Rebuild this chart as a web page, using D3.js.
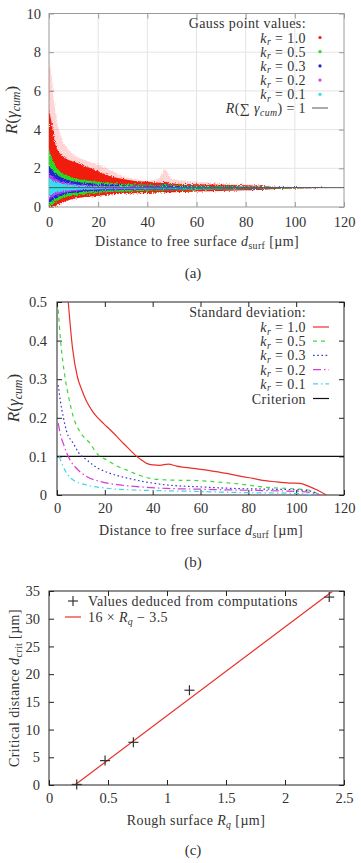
<!DOCTYPE html>
<html lang="en">
<head>
<meta charset="utf-8">
<title>Gauss point values / standard deviation / critical distance</title>
<script src="https://cdn.jsdelivr.net/npm/d3@7"></script>
<style>
  body { margin: 0; background: #fff; }
  text { font-family: "Liberation Serif", "DejaVu Serif", serif; fill: #333; }
  .wide { letter-spacing: 0.4px; }
</style>
</head>
<body>
<script>

// ---------- panel (a): envelopes of the Gauss point clouds
var dist        = [0,   1,   2,    3,    5,   7,    10,   15,   20,   25,   30,   35,   40,   45,   47,   50,   60,   70,   80,   85,   90,   100,  113];
var redSparseHi = [7.6, 6.8, 5.6,  4.6,  3.6, 3.1,  2.7,  2.4,  2.2,  1.9,  1.6,  1.45, 1.35, 1.5,  1.95, 1.45, 1.3,  1.22, 1.18, 1.15, 1.08, 1.04, 1.0];
var redHi       = [5.0, 4.4, 3.6,  3.1,  2.7, 2.5,  2.35, 2.1,  1.85, 1.6,  1.45, 1.35, 1.3,  1.25, 1.3,  1.22, 1.18, 1.15, 1.12, 1.1,  1.05, 1.03, 1.0];
var redLo       = [0.0, 0.0, 0.02, 0.08, 0.2, 0.3,  0.42, 0.52, 0.58, 0.64, 0.68, 0.71, 0.73, 0.75, 0.75, 0.76, 0.8,  0.83, 0.86, 0.88, 0.92, 0.95, 1.0];
var greenHi     = [3.0, 2.6, 2.3,  2.05, 1.8, 1.65, 1.5,  1.38, 1.3,  1.25, 1.2,  1.17, 1.15, 1.13, 1.2,  1.12, 1.1,  1.08, 1.06, 1.05, 1.04, 1.02, 1.0];
var greenLo     = [0.05,0.1, 0.18, 0.28, 0.42,0.52, 0.6,  0.68, 0.73, 0.77, 0.8,  0.82, 0.84, 0.85, 0.85, 0.86, 0.88, 0.9,  0.92, 0.93, 0.95, 0.97, 1.0];
var blueHi      = [2.1, 1.95,1.8,  1.7,  1.52,1.42, 1.32, 1.24, 1.19, 1.16, 1.13, 1.11, 1.1,  1.09, 1.12, 1.08, 1.06, 1.05, 1.04, 1.03, 1.03, 1.02, 1.0];
var blueLo      = [0.22,0.3, 0.4,  0.48, 0.6, 0.68, 0.74, 0.8,  0.84, 0.86, 0.88, 0.89, 0.9,  0.91, 0.91, 0.91, 0.93, 0.94, 0.95, 0.96, 0.97, 0.98, 1.0];
var magHi       = [1.75,1.62,1.52, 1.45, 1.34,1.27, 1.2,  1.14, 1.11, 1.09, 1.08, 1.07, 1.06, 1.06, 1.06, 1.05, 1.04, 1.04, 1.03, 1.02, 1.02, 1.01, 1.0];
var magLo       = [0.38,0.48,0.56, 0.62, 0.7, 0.76, 0.82, 0.86, 0.89, 0.9,  0.91, 0.92, 0.93, 0.94, 0.94, 0.94, 0.95, 0.96, 0.97, 0.97, 0.98, 0.99, 1.0];
var cyanHi      = [1.5, 1.42,1.35, 1.3,  1.22,1.17, 1.12, 1.08, 1.06, 1.05, 1.05, 1.04, 1.04, 1.04, 1.04, 1.03, 1.03, 1.02, 1.02, 1.02, 1.01, 1.01, 1.0];
var cyanLo      = [0.55,0.64,0.7,  0.75, 0.8, 0.84, 0.88, 0.91, 0.93, 0.94, 0.95, 0.95, 0.96, 0.96, 0.96, 0.96, 0.97, 0.97, 0.98, 0.98, 0.98, 0.99, 1.0];
var kLabels = ['1.0', '0.5', '0.3', '0.2', '0.1'];

// ---------- panel (b): standard deviation curves
var sdX1 = [4.7, 6.5, 8.5, 10.5, 12.4, 14.5, 16.6, 19.5, 22.2, 25, 27.7, 30.5, 33.3, 35.5, 37.5, 40, 43, 46.5, 50, 57, 65, 71, 78, 82, 84.9, 91.8, 97.4, 101.6, 105.8, 110, 112.7];
var sdY1 = [0.5, 0.38, 0.307, 0.27, 0.242, 0.22, 0.203, 0.185, 0.169, 0.152, 0.134, 0.117, 0.1, 0.09, 0.082, 0.078, 0.077, 0.080, 0.075, 0.069, 0.062, 0.056, 0.047, 0.043, 0.039, 0.034, 0.031, 0.030, 0.021, 0.009, 0];
var sdX5 = [0.5, 1.5, 3.3, 5, 6.8, 10, 13.8, 17, 20.8, 25, 29, 35, 39, 45.9, 59.8, 73.7, 87.7, 101.6, 105, 108, 110.5];
var sdY5 = [0.48, 0.4, 0.307, 0.25, 0.203, 0.16, 0.134, 0.105, 0.091, 0.075, 0.065, 0.05, 0.043, 0.039, 0.037, 0.030, 0.020, 0.015, 0.013, 0.006, 0];
var sdX3 = [0.5, 1.5, 2.6, 4, 6.8, 9, 12.4, 17, 22.2, 30, 36, 45.9, 60, 73.7, 90, 101.6, 106, 110];
var sdY3 = [0.285, 0.24, 0.203, 0.165, 0.134, 0.11, 0.091, 0.07, 0.056, 0.043, 0.035, 0.026, 0.021, 0.017, 0.015, 0.013, 0.010, 0];
var sdX2 = [0.5, 1.5, 2.6, 4, 5.4, 8, 12.4, 18, 26.1, 35, 45.9, 60, 73.7, 90, 104, 110];
var sdY2 = [0.186, 0.155, 0.134, 0.11, 0.091, 0.07, 0.048, 0.035, 0.026, 0.021, 0.017, 0.015, 0.013, 0.011, 0.008, 0];
var sdX1b = [0.9, 2.5, 4.1, 7, 12.4, 20, 31.9, 45, 60, 80, 100, 108];
var sdY1b = [0.10, 0.075, 0.056, 0.038, 0.026, 0.018, 0.013, 0.011, 0.009, 0.006, 0.004, 0];
var criterion = 0.1;

// ---------- panel (c): critical distance vs roughness
var roughRq  = [0.235, 0.475, 0.715, 1.19, 2.375];
var critDist = [0.1, 4.4, 7.7, 17.1, 33.9];
var fitRq    = [0.219, 2.4];
var fitDcrit = [0, 34.9];

var w = 361;
var h = 863;
var fs = 14;   // legend / label font size

var svg = d3.select("body")
  .append("svg")
  .attr("width", w)
  .attr("height", h);

// speckle filter so the clouds get ragged edges like the scatter
var flt = svg.append('defs').append('filter').attr('id', 'speckle')
  .attr('x', '-5%').attr('y', '-5%').attr('width', '110%').attr('height', '110%');
flt.append('feTurbulence').attr('type', 'fractalNoise').attr('baseFrequency', 0.9)
  .attr('numOctaves', 1).attr('seed', 3).attr('result', 'n');
flt.append('feDisplacementMap').attr('in', 'SourceGraphic').attr('in2', 'n')
  .attr('scale', 4).attr('xChannelSelector', 'R').attr('yChannelSelector', 'G');

// write a run of math-ish text: parts = [[string, italic, sub]]
var mathText = function(sel, parts, size) {
  parts.forEach(function(p, i) {
    var prevSub = i > 0 && parts[i-1][2];
    var t = sel.append('tspan').text(p[0]);
    if (p[1]) t.attr('font-style', 'italic');
    if (p[2]) t.attr('font-size', size*0.7).attr('dy', size*0.18);
    else if (prevSub) t.attr('dy', -size*0.18);
  });
  return sel;
};

var kParts = function(v) { return [['k', true, false], ['r', true, true], [' = ' + v, false, false]]; };

var drawFrame = function(x, y, xt, yt, xf, yf, opt) {
  var g = svg.append('g');
  if (opt.grid) {
    g.selectAll('line.gx').data(xt.slice(1, -1)).enter().append('line')
      .attr('x1', x).attr('x2', x).attr('y1', y.range()[0]).attr('y2', y.range()[1])
      .attr('stroke', '#e4e4e4').attr('stroke-width', 1);
    g.selectAll('line.gy').data(yt.slice(1, -1)).enter().append('line')
      .attr('y1', y).attr('y2', y).attr('x1', x.range()[0]).attr('x2', x.range()[1])
      .attr('stroke', '#e4e4e4').attr('stroke-width', 1);
  }
  var b = y.range()[0], t = y.range()[1], l = x.range()[0], r = x.range()[1];
  g.append('g').attr('transform', 'translate(0,' + b + ')')
    .call(d3.axisBottom(x).tickValues(xt).tickFormat(xf).tickSize(-5).tickPadding(opt.xpad));
  g.append('g').attr('transform', 'translate(0,' + t + ')')
    .call(d3.axisTop(x).tickValues(xt).tickFormat('').tickSize(-5));
  g.append('g').attr('transform', 'translate(' + l + ',0)')
    .call(d3.axisLeft(y).tickValues(yt).tickFormat(yf).tickSize(-5).tickPadding(opt.ypad));
  g.append('g').attr('transform', 'translate(' + r + ',0)')
    .call(d3.axisRight(y).tickValues(yt).tickFormat('').tickSize(-5));
  g.selectAll('.domain').remove();
  g.selectAll('.tick line').attr('stroke', opt.frame);
  g.selectAll('.tick text').attr('font-size', 14.5).attr('fill', '#555')
    .attr('font-family', '"Liberation Serif", serif');
  g.append('rect').attr('x', l).attr('y', t).attr('width', r - l).attr('height', b - t)
    .attr('fill', 'none').attr('stroke', opt.frame).attr('stroke-width', 1);
  return g;
};

var fmt = function(d) { return d === 0 ? '0' : String(d); };

var rLabel = function(cx, cy) {
  return mathText(svg.append('text').attr('transform', 'translate(' + cx + ',' + cy + ') rotate(-90)')
    .attr('text-anchor', 'middle').attr('font-size', 17),
    [['R', true, false], ['(', false, false], ['\u03b3', true, false], ['cum', true, true], [')', false, false]], 17);
};
var xLabel = function(cx, y) {
  return mathText(svg.append('text').attr('class', 'wide').attr('x', cx).attr('y', y)
    .attr('text-anchor', 'middle').attr('font-size', fs),
    [['Distance to free surface ', false, false], ['d', true, false], ['surf', false, true], [' [\u00b5m]', false, false]], fs);
};

// =============================== (a)
var xA = d3.scaleLinear().domain([0, 120]).range([49, 344]);
var yA = d3.scaleLinear().domain([0, 10]).range([207, 13.5]);

svg.append('clipPath').attr('id', 'clipA').append('rect')
  .attr('x', 49).attr('y', 13.5).attr('width', 295).attr('height', 193.5);

drawFrame(xA, yA, d3.range(0, 121, 20), d3.range(0, 11, 2), fmt, fmt,
  {grid: true, frame: '#9a9a9a', xpad: 10, ypad: 8});

var bands = [
  {hi: redSparseHi, lo: redLo, c: '#ff4040', o: 0.22},
  {hi: redHi,   lo: redLo,   c: '#f01c10', o: 1},
  {hi: greenHi, lo: greenLo, c: '#22dd22', o: 1},
  {hi: blueHi,  lo: blueLo,  c: '#2020d8', o: 1},
  {hi: magHi,   lo: magLo,   c: '#b040f0', o: 1},
  {hi: cyanHi,  lo: cyanLo,  c: '#30e0f0', o: 1}
];

var cloud = svg.append('g').attr('clip-path', 'url(#clipA)').append('g').attr('filter', 'url(#speckle)');
bands.forEach(function(bd) {
  var area = d3.area()
    .x(function(d, i) { return xA(dist[i]); })
    .y0(function(d, i) { return yA(bd.lo[i]); })
    .y1(function(d, i) { return yA(bd.hi[i]); })
    .curve(d3.curveMonotoneX);
  cloud.append('path').datum(dist).attr('d', area)
    .attr('fill', bd.c).attr('fill-opacity', bd.o);
});
svg.append('line').attr('x1', xA(0)).attr('x2', xA(120)).attr('y1', yA(1)).attr('y2', yA(1))
  .attr('stroke', '#555').attr('stroke-width', 1);

// legend (a)
var legA = svg.append('g');
legA.append('text').attr('class', 'wide').attr('x', 306).attr('y', 28).attr('text-anchor', 'end')
  .attr('font-size', fs).text('Gauss point values:');
var dotCols = ['#f01c10', '#22dd22', '#2020d8', '#e040e0', '#30e0f0'];
kLabels.forEach(function(k, i) {
  var yy = 37.5 + i * 14.2;
  mathText(legA.append('text').attr('class', 'wide').attr('x', 306).attr('y', yy + 5).attr('text-anchor', 'end')
    .attr('font-size', fs), kParts(k), fs);
  legA.append('circle').attr('cx', 320).attr('cy', yy).attr('r', 1.6).attr('fill', dotCols[i]);
});
mathText(legA.append('text').attr('class', 'wide').attr('x', 306).attr('y', 113).attr('text-anchor', 'end').attr('font-size', fs),
  [['R', true, false], ['(\u2211 ', false, false], ['\u03b3', true, false], ['cum', true, true], [') = 1', false, false]], fs);
legA.append('line').attr('x1', 312).attr('x2', 328).attr('y1', 108).attr('y2', 108)
  .attr('stroke', '#555').attr('stroke-width', 1);

rLabel(17, 110);
xLabel(197, 246);
svg.append('text').attr('x', 193).attr('y', 278).attr('text-anchor', 'middle').attr('font-size', 15).text('(a)');

// =============================== (b)
var xB = d3.scaleLinear().domain([0, 120]).range([57, 344]);
var yB = d3.scaleLinear().domain([0, 0.5]).range([495, 302]);

svg.append('clipPath').attr('id', 'clipB').append('rect')
  .attr('x', 57).attr('y', 302).attr('width', 287).attr('height', 193);

drawFrame(xB, yB, d3.range(0, 121, 20), [0, 0.1, 0.2, 0.3, 0.4, 0.5], fmt,
  function(d) { return d === 0 ? '0' : d3.format('.1f')(d); },
  {grid: false, frame: '#222', xpad: 8, ypad: 10});

var sdSeries = [
  {x: sdX1,  y: sdY1,  c: '#e8302a', dash: null},
  {x: sdX5,  y: sdY5,  c: '#3ed63e', dash: '4,4'},
  {x: sdX3,  y: sdY3,  c: '#3a3ad0', dash: '1.6,2.6'},
  {x: sdX2,  y: sdY2,  c: '#d83ad8', dash: '8,3,1.5,3'},
  {x: sdX1b, y: sdY1b, c: '#40d8e8', dash: '5,3,1.5,3'}
];
var gB = svg.append('g').attr('clip-path', 'url(#clipB)');
gB.append('line').attr('x1', xB(0)).attr('x2', xB(120)).attr('y1', yB(criterion)).attr('y2', yB(criterion))
  .attr('stroke', '#111').attr('stroke-width', 1.2);
sdSeries.forEach(function(s) {
  var line = d3.line()
    .x(function(d, i) { return xB(s.x[i]); })
    .y(function(d) { return yB(d); })
    .curve(d3.curveMonotoneX);
  gB.append('path').datum(s.y).attr('d', line).attr('fill', 'none')
    .attr('stroke', s.c).attr('stroke-width', 1.2).attr('stroke-dasharray', s.dash);
});

var legB = svg.append('g');
legB.append('text').attr('class', 'wide').attr('x', 306).attr('y', 317).attr('text-anchor', 'end')
  .attr('font-size', fs).text('Standard deviation:');
kLabels.forEach(function(k, i) {
  var yy = 327 + i * 14.2;
  mathText(legB.append('text').attr('class', 'wide').attr('x', 306).attr('y', yy + 5).attr('text-anchor', 'end')
    .attr('font-size', fs), kParts(k), fs);
  legB.append('line').attr('x1', 313).attr('x2', 329).attr('y1', yy).attr('y2', yy)
    .attr('stroke', sdSeries[i].c).attr('stroke-width', 1.2).attr('stroke-dasharray', sdSeries[i].dash);
});
legB.append('text').attr('class', 'wide').attr('x', 306).attr('y', 404).attr('text-anchor', 'end')
  .attr('font-size', fs).text('Criterion');
legB.append('line').attr('x1', 313).attr('x2', 329).attr('y1', 398.5).attr('y2', 398.5)
  .attr('stroke', '#111').attr('stroke-width', 1.2);

rLabel(19, 398);
xLabel(201, 535);
svg.append('text').attr('x', 193).attr('y', 567).attr('text-anchor', 'middle').attr('font-size', 15).text('(b)');

// =============================== (c)
var xC = d3.scaleLinear().domain([0, 2.5]).range([49, 344]);
var yC = d3.scaleLinear().domain([0, 35]).range([785, 591]);

drawFrame(xC, yC, [0, 0.5, 1, 1.5, 2, 2.5], d3.range(0, 36, 5), fmt, fmt,
  {grid: false, frame: '#222', xpad: 8, ypad: 9});

var gC = svg.append('g');
gC.append('path').datum(fitRq).attr('d', d3.line()
    .x(function(d) { return xC(d); })
    .y(function(d, i) { return yC(fitDcrit[i]); }))
  .attr('fill', 'none').attr('stroke', '#e8302a').attr('stroke-width', 1.2);

var cross = function(g, cx, cy) {
  g.append('line').attr('x1', cx - 5).attr('x2', cx + 5).attr('y1', cy).attr('y2', cy)
    .attr('stroke', '#333').attr('stroke-width', 1.2);
  g.append('line').attr('x1', cx).attr('x2', cx).attr('y1', cy - 5).attr('y2', cy + 5)
    .attr('stroke', '#333').attr('stroke-width', 1.2);
};
roughRq.forEach(function(r, i) { cross(gC, xC(r), yC(critDist[i])); });

cross(gC, 73, 601);
gC.append('text').attr('class', 'wide').attr('x', 88).attr('y', 606).attr('font-size', fs)
  .text('Values deduced from computations');
gC.append('line').attr('x1', 65).attr('x2', 81).attr('y1', 617).attr('y2', 617)
  .attr('stroke', '#e8302a').attr('stroke-width', 1.2);
mathText(gC.append('text').attr('class', 'wide').attr('x', 88).attr('y', 622).attr('font-size', fs),
  [['16 \u00d7 ', false, false], ['R', true, false], ['q', true, true], [' \u2212 3.5', false, false]], fs);

mathText(svg.append('text').attr('class', 'wide').attr('transform', 'translate(19,688) rotate(-90)')
  .attr('text-anchor', 'middle').attr('font-size', fs),
  [['Critical distance ', false, false], ['d', true, false], ['crit', false, true], [' [\u00b5m]', false, false]], fs);
mathText(svg.append('text').attr('class', 'wide').attr('x', 196).attr('y', 825).attr('text-anchor', 'middle').attr('font-size', fs),
  [['Rough surface ', false, false], ['R', true, false], ['q', true, true], [' [\u00b5m]', false, false]], fs);
svg.append('text').attr('x', 193).attr('y', 855).attr('text-anchor', 'middle').attr('font-size', 15).text('(c)');

</script>
</body>
</html>
